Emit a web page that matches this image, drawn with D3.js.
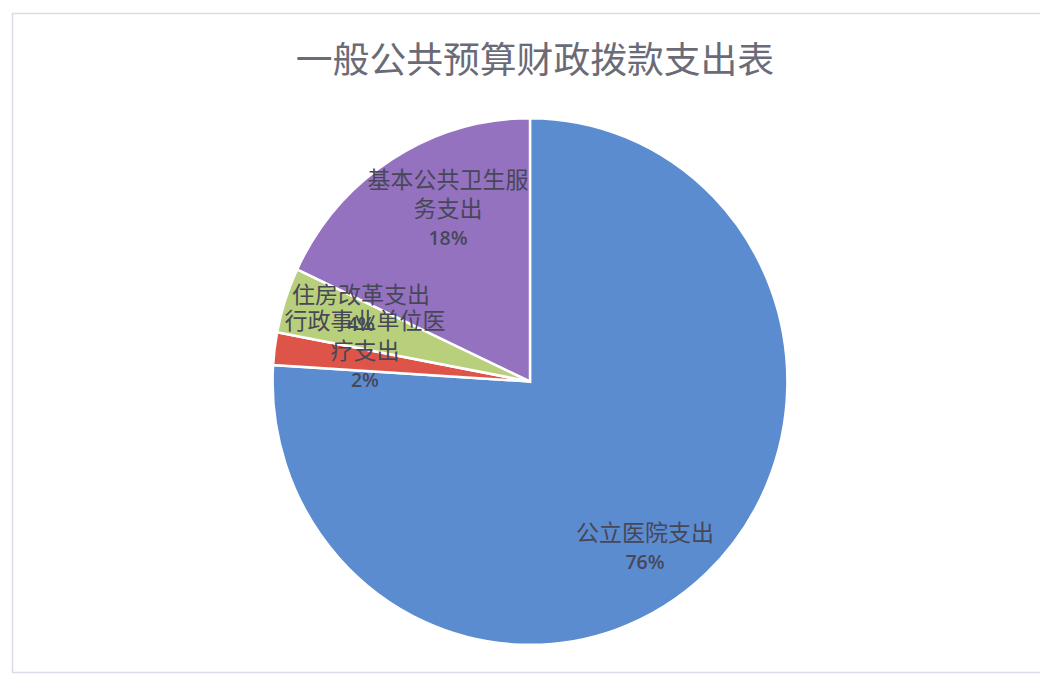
<!DOCTYPE html>
<html>
<head>
<meta charset="utf-8">
<script src="https://cdn.jsdelivr.net/npm/d3@7"></script>
<style>
  html, body { margin: 0; padding: 0; background: #ffffff; }
  svg { display: block; }
</style>
</head>
<body>
<svg id="chart" width="1040" height="675"></svg>
<script>
// Budget appropriation breakdown (percent of total)
const title = "一般公共预算财政拨款支出表";
const categories = ["公立医院支出", "行政事业单位医疗支出", "住房改革支出", "基本公共卫生服务支出"];
const values = [76, 2, 4, 18];
// Category names as they wrap inside the pie labels
const labelLines = [
  ["公立医院支出"],
  ["行政事业单位医", "疗支出"],
  ["住房改革支出"],
  ["基本公共卫生服", "务支出"]
];
const colors = ["#5b8cd0", "#df5448", "#b8cf7c", "#9472c0"];

const svg = d3.select("#chart");
const W = 1040, H = 675;

// chart frame
svg.append("rect")
  .attr("x", 12.5).attr("y", 13.5)
  .attr("width", W + 10).attr("height", 659)
  .attr("fill", "#ffffff")
  .attr("stroke", "#dcdce8").attr("stroke-width", 1.5);

// title
svg.append("text")
  .attr("x", 535).attr("y", 73)
  .attr("text-anchor", "middle")
  .attr("font-family", "'Noto Sans CJK SC', sans-serif")
  .attr("font-size", 36.8)
  .attr("fill", "#6b6b78")
  .text(title);

const cx = 530, cy = 381.5, R = 260;
const g = svg.append("g")
  .attr("transform", `translate(${cx},${cy}) scale(0.99,1.013)`);

const pie = d3.pie().sort(null).value(d => d.value);
const arcs = pie(categories.map((c, i) => ({ name: c, value: values[i], lines: labelLines[i] })));
const arc = d3.arc().innerRadius(0).outerRadius(R);

g.selectAll("path.slice")
  .data(arcs)
  .join("path")
  .attr("class", "slice")
  .attr("d", arc)
  .attr("fill", (d, i) => colors[i])
  .attr("stroke", "#ffffff")
  .attr("stroke-width", 2.5)
  .attr("stroke-linejoin", "miter");

// label placement: angle shift (deg) and radius fraction for each slice
const labelPlace = [
  { shift: 8.5, r: 0.777 },
  { shift: 3.4, r: 0.646 },
  { shift: 5.1, r: 0.707 },
  { shift: 7.0, r: 0.735 }
];
const lineH = 29.5;

const labels = svg.append("g").attr("transform", `translate(${cx},${cy})`);
arcs.forEach((d, i) => {
  const mid = (d.startAngle + d.endAngle) / 2 + labelPlace[i].shift * Math.PI / 180;
  const rr = R * labelPlace[i].r;
  const x = Math.sin(mid) * rr, y = -Math.cos(mid) * rr;
  const lines = d.data.lines.concat([d.data.value + "%"]);
  const n = lines.length;
  lines.forEach((t, k) => {
    const isPct = k === n - 1;
    labels.append("text")
      .attr("x", x)
      .attr("y", y + (k - (n - 1) / 2) * lineH)
      .attr("dy", "0.36em")
      .attr("text-anchor", "middle")
      .attr("font-family", isPct ? "'Open Sans', 'Liberation Sans', sans-serif" : "'Noto Sans CJK SC', sans-serif")
      .attr("font-weight", isPct ? 600 : 400)
      .attr("font-size", isPct ? 19.5 : 23)
      .attr("fill", "#474758")
      .text(t);
  });
});
</script>
</body>
</html>
